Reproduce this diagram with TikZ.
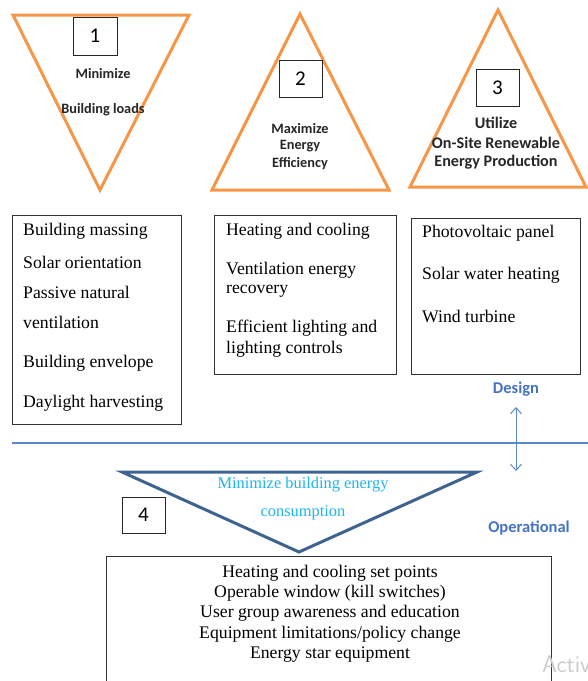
\documentclass[tikz,border=0pt]{standalone}
\usepackage{fontspec}
\setmainfont{Liberation Serif}
\newfontfamily\calfont{Carlito}
\usetikzlibrary{arrows.meta}
\definecolor{orng}{HTML}{F79646}
\definecolor{dblue}{HTML}{3F6391}
\definecolor{lblue}{HTML}{5A87C5}
\definecolor{cyanT}{HTML}{1CB5F0}
\definecolor{lbl}{HTML}{4472C4}
\tikzset{
  tri/.style={draw=orng,line width=3pt,line join=miter},
  tri4/.style={draw=dblue,line width=3pt,line join=miter},
  box/.style={draw=black!80,line width=1pt,anchor=north west,inner sep=0pt},
  numbox/.style={draw=black!85,line width=1pt,inner sep=0pt,font=\calfont\fontsize{21}{21}\selectfont},
  tlab/.style={font=\calfont\bfseries\fontsize{14.3}{16}\selectfont,text=black!85,inner sep=0pt},
  tlab3/.style={font=\calfont\bfseries\fontsize{16.2}{18}\selectfont,text=black!85,inner sep=0pt},
  item/.style={anchor=west,inner sep=0pt,font=\fontsize{17.7}{20}\selectfont},
  ditem/.style={inner sep=0pt,font=\fontsize{17.7}{20}\selectfont},
  side/.style={font=\calfont\bfseries\fontsize{16.5}{18}\selectfont,text=lbl,inner sep=0pt},
  cyantxt/.style={inner sep=0pt,text=cyanT,font=\fontsize{16.4}{18}\selectfont},
}
\begin{document}
\begin{tikzpicture}[x=1pt,y=-1pt]
\useasboundingbox (0,0) rectangle (588,681);
% triangles
\draw[tri] (13,15) -- (189,15) -- (100,190) -- cycle;
\draw[tri] (300,14) -- (389,190) -- (212,190) -- cycle;
\draw[tri] (498,10) -- (586,187) -- (410,187) -- cycle;
% number boxes
\node[numbox,minimum width=44pt,minimum height=38pt] (n1) at (95,36) {1};
\node[numbox,minimum width=43pt,minimum height=37pt] (n2) at (300.5,78.5) {2};
\node[numbox,minimum width=43pt,minimum height=37pt] (n3) at (497.5,87.5) {3};
% triangle labels
\node[tlab] (t1a) at (103,74) {Minimize};
\node[tlab] (t1b) at (103,110) {Building loads};
\node[tlab] (t2a) at (300,129) {Maximize};
\node[tlab] (t2b) at (300,146) {Energy};
\node[tlab] (t2c) at (300,164) {Efficiency};
\node[tlab3] (t3a) at (496,123) {Utilize};
\node[tlab3] (t3b) at (496,143) {On-Site Renewable};
\node[tlab3] (t3c) at (496,162) {Energy Production};
% box A
\node[box,minimum width=169pt,minimum height=209pt] (boxA) at (12,215) {};
\node[item] (a1) at (23,231) {Building massing};
\node[item] (a2) at (23,262) {Solar orientation};
\node[item] (a3) at (23,292) {Passive natural};
\node[item] (a4) at (23,322) {ventilation};
\node[item] (a5) at (23,363) {Building envelope};
\node[item] (a6) at (23,403) {Daylight harvesting};
% box B
\node[box,minimum width=182pt,minimum height=159pt] (boxB) at (214,215) {};
\node[item] (b1) at (226,231) {Heating and cooling};
\node[item] (b2) at (226,270) {Ventilation energy};
\node[item] (b3) at (226,291) {recovery};
\node[item] (b4) at (226,328) {Efficient lighting and};
\node[item] (b5) at (226,349) {lighting controls};
% box C
\node[box,minimum width=169pt,minimum height=156pt] (boxC) at (411,218) {};
\node[item] (c1) at (422,233) {Photovoltaic panel};
\node[item] (c2) at (422,275) {Solar water heating};
\node[item] (c3) at (422,316) {Wind turbine};
% design / operational
\node[side] (design) at (516,389) {Design};
\coordinate (sepL) at (12,443);
\coordinate (sepR) at (588,443);
\draw[draw=lblue,line width=1.3pt] (sepL) -- (sepR);
\coordinate (arT) at (516,407);
\coordinate (arB) at (516,471);
\draw[draw=lblue,line width=1pt,{Straight Barb[length=6pt,width=11pt]}-{Straight Barb[length=6pt,width=11pt]}] (arT) -- (arB);
\node[side] (oper) at (529,528) {Operational};
% triangle 4
\draw[tri4] (122,472) -- (477,472) -- (299,552) -- cycle;
\node[cyantxt] (m1) at (303,485) {Minimize building energy};
\node[cyantxt] (m2) at (303,513) {consumption};
\node[numbox,minimum width=43pt,minimum height=36pt] (n4) at (143.5,515) {4};
% box D
\node[box,minimum width=445pt,minimum height=140pt] (boxD) at (106,556) {};
\node[ditem] (d1) at (330,573) {Heating and cooling set points};
\node[ditem] (d2) at (330,593) {Operable window (kill switches)};
\node[ditem] (d3) at (330,613) {User group awareness and education};
\node[ditem] (d4) at (330,634) {Equipment limitations/policy change};
\node[ditem] (d5) at (330,655) {Energy star equipment};
\node[anchor=west,inner sep=0pt,text=black!20,font=\fontsize{24}{24}\selectfont\sffamily] (act) at (542,664) {Activ};
\end{tikzpicture}
\end{document}
